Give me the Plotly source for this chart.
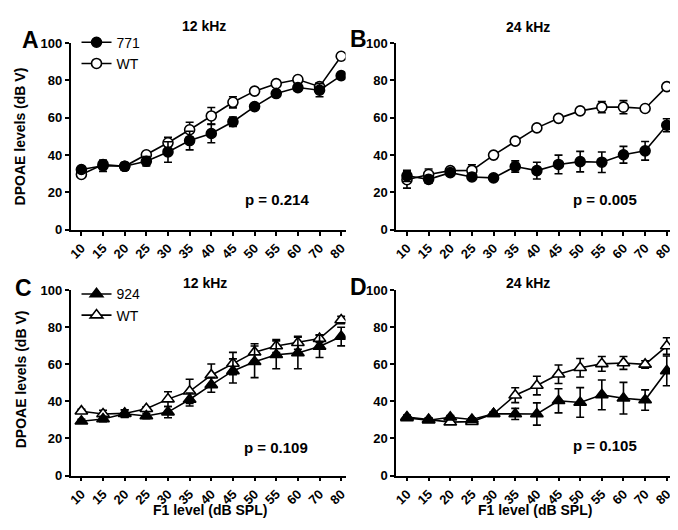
import plotly.graph_objects as go

levels = ["10", "15", "20", "25", "30", "35", "40", "45", "50", "55", "60", "70", "80"]
xpos = list(range(len(levels)))

# Panel A: 12 kHz, 771 vs WT
a_771 = [32.3, 34.3, 34.0, 36.7, 41.7, 47.8, 51.6, 57.9, 66.0, 73.0, 76.2, 74.8, 82.6]
a_771_err = [1.0, 3.0, 2.0, 2.5, 5.5, 5.0, 5.0, 2.5, 1.0, 1.0, 2.0, 3.5, 1.0]
a_wt = [29.6, 35.0, 34.0, 40.2, 46.6, 53.6, 61.0, 68.3, 74.3, 78.3, 80.5, 76.7, 93.0]
a_wt_err = [1.0, 1.5, 1.0, 1.0, 3.0, 4.0, 4.5, 3.0, 1.0, 1.0, 1.0, 2.0, 1.0]

# Panel B: 24 kHz, 771 vs WT
b_771 = [28.9, 27.0, 30.6, 28.3, 27.8, 33.9, 31.7, 35.0, 36.5, 36.2, 40.2, 42.3, 56.0]
b_771_err = [3.0, 2.0, 1.0, 1.0, 1.0, 3.0, 4.5, 5.0, 5.5, 5.5, 4.5, 5.0, 3.5]
b_wt = [26.8, 29.6, 31.7, 31.8, 40.0, 47.5, 54.6, 59.7, 63.7, 65.7, 65.7, 65.0, 76.7]
b_wt_err = [4.5, 3.0, 1.0, 3.0, 1.0, 1.0, 1.0, 1.0, 1.0, 3.0, 3.5, 1.0, 1.0]

# Panel C: 12 kHz, 924 vs WT
c_924 = [29.3, 30.5, 33.3, 32.1, 34.2, 41.0, 48.9, 56.4, 61.3, 65.1, 66.1, 69.6, 74.9]
c_924_err = [1.0, 1.5, 2.0, 1.5, 3.0, 3.5, 4.0, 6.5, 8.5, 7.5, 8.5, 6.0, 5.0]
c_wt = [34.7, 33.2, 33.5, 36.0, 41.2, 45.4, 54.1, 60.4, 66.5, 69.8, 71.6, 73.8, 83.8]
c_wt_err = [1.0, 2.0, 2.0, 1.0, 4.0, 6.5, 6.0, 6.0, 4.5, 3.5, 3.5, 2.0, 2.0]

# Panel D: 24 kHz, 924 vs WT
d_924 = [31.1, 29.8, 31.4, 30.2, 33.3, 33.2, 33.2, 40.3, 39.4, 43.5, 41.7, 40.7, 56.4]
d_924_err = [1.0, 1.0, 1.0, 1.0, 1.0, 3.0, 6.0, 6.5, 8.0, 8.0, 8.5, 5.5, 8.0]
d_wt = [31.6, 30.2, 28.8, 29.1, 33.3, 43.3, 48.5, 54.6, 58.1, 60.2, 60.7, 59.9, 69.8]
d_wt_err = [1.0, 1.0, 1.0, 1.0, 1.0, 4.0, 5.0, 5.0, 5.0, 4.0, 3.5, 2.0, 4.5]

p_values = ["p = 0.214", "p = 0.005", "p = 0.109", "p = 0.105"]
titles = ["12 kHz", "24 kHz", "12 kHz", "24 kHz"]
letters = ["A", "B", "C", "D"]

W, H = 678, 530
FONT = "Liberation Sans, Arial, sans-serif"

def px_x(v):
    return v / W

def px_y(v):
    return 1 - v / H

fig = go.Figure()

panels = [
    ("x", "y", a_771, a_771_err, a_wt, a_wt_err, "771", "circle", "legend"),
    ("x2", "y2", b_771, b_771_err, b_wt, b_wt_err, "771", "circle", None),
    ("x3", "y3", c_924, c_924_err, c_wt, c_wt_err, "924", "triangle-up", "legend2"),
    ("x4", "y4", d_924, d_924_err, d_wt, d_wt_err, "924", "triangle-up", None),
]

for xa, ya, mut, mut_err, wt, wt_err, name, sym, leg in panels:
    show = leg is not None
    msize = 10 if sym == "circle" else 11
    fig.add_trace(go.Scatter(
        x=xpos, y=wt, xaxis=xa, yaxis=ya, name="WT", mode="lines+markers",
        line=dict(color="black", width=1.6),
        marker=dict(symbol=sym, size=msize, color="white", line=dict(color="black", width=1.6)),
        error_y=dict(type="data", array=wt_err, color="black", thickness=1.6, width=4),
        showlegend=show, legend=leg if leg else "legend", legendrank=2,
    ))
    fig.add_trace(go.Scatter(
        x=xpos, y=mut, xaxis=xa, yaxis=ya, name=name, mode="lines+markers",
        line=dict(color="black", width=1.6),
        marker=dict(symbol=sym, size=msize, color="black", line=dict(color="black", width=1.6)),
        error_y=dict(type="data", array=mut_err, color="black", thickness=1.6, width=4),
        showlegend=show, legend=leg if leg else "legend", legendrank=1,
    ))

xdoms = [(60, 337), (388, 665), (60, 337), (388, 665)]
ydoms = [(221, 29), (221, 29), (474, 283), (474, 283)]

axis_common = dict(showline=True, linecolor="black", linewidth=1.6, ticks="outside",
                   ticklen=4, tickwidth=1.6, tickcolor="black", showgrid=False, zeroline=False,
                   tickfont=dict(family=FONT, size=13, color="black", weight="bold"))

layout = {}
for i in range(4):
    sfx = "" if i == 0 else str(i + 1)
    layout["xaxis" + sfx] = dict(
        domain=[px_x(xdoms[i][0]), px_x(xdoms[i][1])], anchor="y" + sfx,
        range=[-0.5, 12.2], tickmode="array", tickvals=xpos, ticktext=levels,
        tickangle=-45, **axis_common)
    layout["yaxis" + sfx] = dict(
        domain=[px_y(ydoms[i][0]), px_y(ydoms[i][1])], anchor="x" + sfx,
        range=[0, 100], tickmode="array", tickvals=[0, 20, 40, 60, 80, 100], **axis_common)

ann = []
title_pos = [(194, 11), (521, 12), (195, 276), (521, 276)]
letter_pos = [(20, 26), (350, 25), (13, 281), (350, 280)]
p_pos = [(268, 190), (598, 190), (267, 445), (598, 443)]
for i in range(4):
    ann.append(dict(text=titles[i], x=px_x(title_pos[i][0]), y=px_y(title_pos[i][1]),
                    xref="paper", yref="paper", showarrow=False, xanchor="center", yanchor="middle",
                    font=dict(family=FONT, size=14, color="black", weight="bold")))
    ann.append(dict(text=letters[i], x=px_x(letter_pos[i][0]), y=px_y(letter_pos[i][1]),
                    xref="paper", yref="paper", showarrow=False, xanchor="center", yanchor="middle",
                    font=dict(family=FONT, size=23, color="black", weight="bold")))
    ann.append(dict(text=p_values[i], x=px_x(p_pos[i][0]), y=px_y(p_pos[i][1]),
                    xref="paper", yref="paper", showarrow=False, xanchor="center", yanchor="middle",
                    font=dict(family=FONT, size=15, color="black", weight="bold")))

for yc in (125, 375):
    ann.append(dict(text="DPOAE levels (dB V)", x=px_x(10), y=px_y(yc), textangle=-90,
                    xref="paper", yref="paper", showarrow=False, xanchor="center", yanchor="middle",
                    font=dict(family=FONT, size=14, color="black", weight="bold")))
for xc in (200, 528):
    ann.append(dict(text="F1 level (dB SPL)", x=px_x(xc), y=px_y(509),
                    xref="paper", yref="paper", showarrow=False, xanchor="center", yanchor="middle",
                    font=dict(family=FONT, size=14, color="black", weight="bold")))

legend_common = dict(xanchor="left", yanchor="top", bgcolor="rgba(0,0,0,0)",
                     font=dict(family=FONT, size=14, color="black"), tracegroupgap=0,
                     itemwidth=30, traceorder="normal")

fig.update_layout(
    width=W, height=H, margin=dict(l=0, r=0, t=0, b=0),
    paper_bgcolor="white", plot_bgcolor="white",
    annotations=ann,
    legend=dict(x=px_x(66), y=px_y(12), **legend_common),
    legend2=dict(x=px_x(66), y=px_y(271), **legend_common),
    **layout,
)

fig.write_html("out.html")
